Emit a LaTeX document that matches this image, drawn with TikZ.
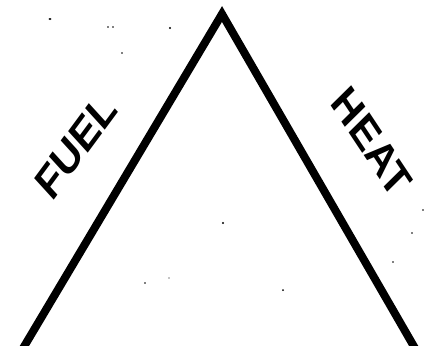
\documentclass[tikz,border=0pt]{standalone}
\usepackage{fontspec}
\setmainfont{Liberation Sans}
\begin{document}
\begin{tikzpicture}[x=1bp,y=-1bp,
  side/.style={line width=8bp,line join=miter,miter limit=20},
  label/.style={font=\fontsize{47}{47}\bfseries\selectfont,inner sep=0pt,xscale=0.82},
  speck/.style={fill=black}]
\useasboundingbox (0,0) rectangle (430,346);
\clip (0,0) rectangle (430,346);
\fill[white] (0,0) rectangle (430,346);
\coordinate (apex) at (222,14);
\coordinate (bl) at (22,350);
\coordinate (br) at (416,350);
\draw[side] (bl) -- (apex) -- (br);
\node[label,rotate=48] (fuel) at (76,146) {FUEL};
\node[label,rotate=-51] (heat) at (372,142) {HEAT};
% scan specks
\fill[speck] (50,19) ellipse (1.6bp and 1bp);
\fill[speck] (108,27) circle (0.9bp);
\fill[speck] (113,27) circle (0.9bp);
\fill[speck] (170,28) circle (1.2bp);
\fill[speck] (122,53) circle (0.9bp);
\fill[speck] (223,223) circle (1.1bp);
\fill[speck] (423,210) circle (0.9bp);
\fill[speck] (412,233) circle (0.9bp);
\fill[speck] (393,262) circle (0.9bp);
\fill[speck] (145,283) circle (0.9bp);
\fill[speck] (169,278) circle (0.7bp);
\fill[speck] (283,290) circle (1bp);
\end{tikzpicture}
\end{document}
